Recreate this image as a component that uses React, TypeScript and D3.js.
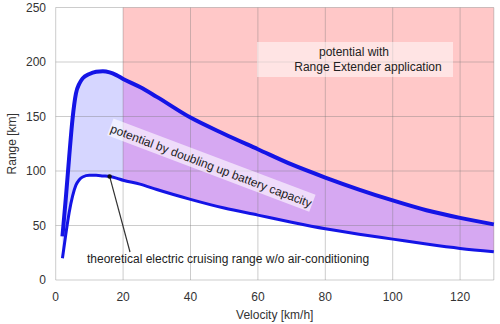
import React from "react";
import * as d3 from "d3";

const velocity = [2, 3, 4, 5, 6, 7, 8, 10, 12, 14, 16, 18, 20, 25, 30, 40, 50, 60, 70, 80, 90, 100, 110, 120, 130];
const rangeBase = [20, 42, 62, 77, 87, 92, 94.5, 96, 96, 95.5, 95, 93.5, 91.5, 88, 83, 74, 66, 59.5, 53, 47, 42, 37.5, 33, 29, 26];
const rangeDouble = [40, 75, 113, 148, 171, 180, 185, 189, 191, 191.5, 190.5, 188, 184.5, 177, 168, 149, 134, 120, 106, 94, 83, 73, 64, 57, 51];
const xTicks = [0, 20, 40, 60, 80, 100, 120];
const yTicks = [0, 50, 100, 150, 200, 250];
const extenderStart = 20;

const W = 500, H = 324;
const M = { left: 55.7, right: 6.2, top: 7.5, bottom: 44 };

export default function App() {
  const x = d3.scaleLinear().domain([0, 130]).range([M.left, W - M.right]);
  const y = d3.scaleLinear().domain([0, 250]).range([H - M.bottom, M.top]);
  const pts = velocity.map((v, i) => ({ v, lo: rangeBase[i], hi: rangeDouble[i] }));
  const curve = d3.curveMonotoneX;
  const band = d3.area<any>().x(d => x(d.v)).y0(d => y(d.lo)).y1(d => y(d.hi)).curve(curve)(pts) as string;
  const pink = d3.area<any>().x(d => x(d.v)).y0(d => y(d.lo)).y1(() => y(250)).curve(curve)(pts) as string;
  const lineLo = d3.line<any>().x(d => x(d.v)).y(d => y(d.lo)).curve(curve)(pts) as string;
  const lineHi = d3.line<any>().x(d => x(d.v)).y(d => y(d.hi)).curve(curve)(pts) as string;
  const x20 = x(extenderStart);
  const font = "Liberation Sans, Arial, sans-serif";
  const rx = 211, ry = 166, ang = 20.7;
  const arrowTo = [x(16), y(rangeBase[10])];
  return (
    <svg width={W} height={H} style={{ position: "absolute", left: 0, top: 0 }} fontFamily={font}>
      <defs>
        <clipPath id="left"><rect x={0} y={0} width={x20} height={H} /></clipPath>
        <clipPath id="right"><rect x={x20} y={0} width={W} height={H} /></clipPath>
      </defs>
      <rect width={W} height={H} fill="#fff" />
      <path d={pink} fill="rgb(255,200,200)" clipPath="url(#right)" />
      <path d={band} fill="rgb(214,214,255)" clipPath="url(#left)" />
      <path d={band} fill="rgb(214,168,242)" clipPath="url(#right)" />
      {xTicks.concat([130]).map(t => (
        <line key={"gx" + t} x1={x(t)} x2={x(t)} y1={y(0)} y2={y(250)} stroke="rgba(120,120,120,0.38)" strokeWidth={1} />
      ))}
      {yTicks.map(t => (
        <line key={"gy" + t} x1={x(0)} x2={x(130)} y1={y(t)} y2={y(t)} stroke="rgba(120,120,120,0.38)" strokeWidth={1} />
      ))}
      <path d={lineHi} fill="none" stroke="#1414e6" strokeWidth={4} strokeLinejoin="round" />
      <path d={lineLo} fill="none" stroke="#1414e6" strokeWidth={3} strokeLinejoin="round" />
      {xTicks.map(t => (
        <text key={"tx" + t} x={x(t)} y={301} textAnchor="middle" fontSize={12} fill="#333">{t}</text>
      ))}
      {yTicks.map(t => (
        <text key={"ty" + t} x={46} y={y(t) + 4} textAnchor="end" fontSize={12} fill="#333">{t}</text>
      ))}
      <text x={(x(0) + x(130)) / 2} y={319} textAnchor="middle" fontSize={12} fill="#333">Velocity [km/h]</text>
      <text transform={`translate(16,${(y(0) + y(250)) / 2}) rotate(-90)`} textAnchor="middle" fontSize={12} fill="#333">Range [km]</text>
      <rect x={257} y={42} width={196} height={35} fill="rgba(255,255,255,0.5)" />
      <text x={354} y={56} textAnchor="middle" fontSize={12} fill="#222">potential with</text>
      <text x={368} y={71} textAnchor="middle" fontSize={12} fill="#222">Range Extender application</text>
      <g transform={`translate(${rx},${ry}) rotate(${ang})`}>
        <rect x={-108} y={-10} width={216} height={18} fill="rgba(255,255,255,0.6)" />
        <text x={0} y={4} textAnchor="middle" fontSize={12} fill="#222">potential by doubling up battery capacity</text>
      </g>
      <line x1={130} y1={252} x2={arrowTo[0]} y2={arrowTo[1]} stroke="#333" strokeWidth={1.2} />
      <circle cx={arrowTo[0]} cy={arrowTo[1]} r={2.2} fill="#111" />
      <text x={87} y={263} fontSize={12} fill="#222">theoretical electric cruising range w/o air-conditioning</text>
    </svg>
  );
}
